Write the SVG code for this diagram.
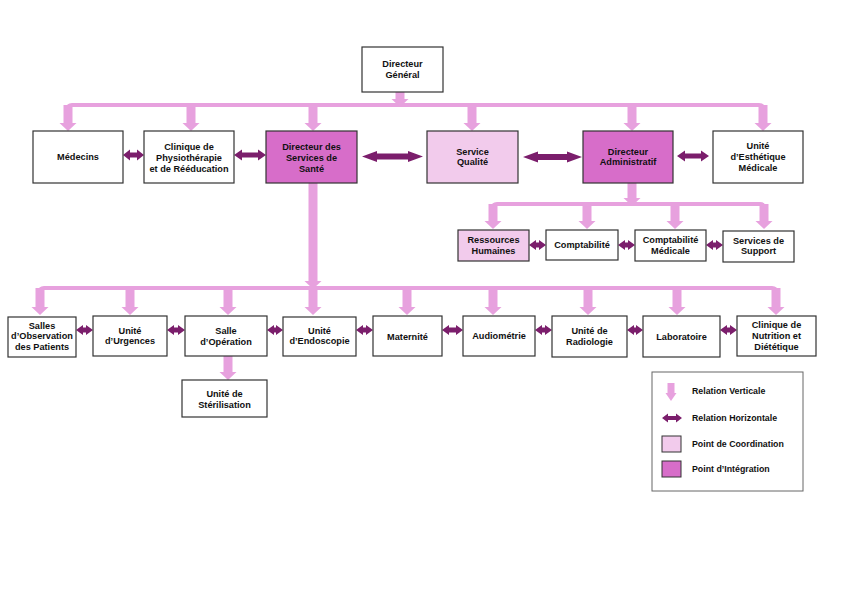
<svg xmlns="http://www.w3.org/2000/svg" width="842" height="595" viewBox="0 0 842 595">
<style>
.box{fill:#fff;stroke:#333;stroke-width:1.2}
.coord{fill:#f2cbec}
.integ{fill:#d76dc9}
.t{font-family:"Liberation Sans",Arial,sans-serif;font-weight:700;font-size:9.2px;fill:#111;text-anchor:middle}
.lt{font-family:"Liberation Sans",Arial,sans-serif;font-weight:700;font-size:8.8px;fill:#111}
.v{fill:#e7a1de}
.bar{fill:none;stroke:#e7a1de;stroke-width:4}
.h{fill:#7b1e6c}
</style>
<rect width="842" height="595" fill="#fff"/>
<g id="connectors">
<path class="bar" d="M68,114 V109 Q68,105 72,105 H759 Q763,105 763,109 V114"/>
<path class="bar" d="M493,212 V208 Q493,204 497,204 H760 Q764,204 764,208 V212"/>
<path class="bar" d="M40,296 V292 Q40,288 44,288 H772 Q776,288 776,292 V296"/>
<path class="v" d="M395.5,92 h9 V99 h4 L400,107 L391.5,99 h4 Z"/>
<path class="v" d="M63.5,105 h9 V123 h4 L68,131 L59.5,123 h4 Z"/>
<path class="v" d="M186.5,105 h9 V123 h4 L191,131 L182.5,123 h4 Z"/>
<path class="v" d="M308.5,105 h9 V123 h4 L313,131 L304.5,123 h4 Z"/>
<path class="v" d="M467.5,105 h9 V123 h4 L472,131 L463.5,123 h4 Z"/>
<path class="v" d="M627.5,105 h9 V123 h4 L632,131 L623.5,123 h4 Z"/>
<path class="v" d="M758.5,105 h9 V123 h4 L763,131 L754.5,123 h4 Z"/>
<path class="v" d="M627.5,183 h9 V198 h4 L632,206 L623.5,198 h4 Z"/>
<path class="v" d="M488.5,204 h9 V221 h4 L493,229 L484.5,221 h4 Z"/>
<path class="v" d="M582.5,204 h9 V221 h4 L587,229 L578.5,221 h4 Z"/>
<path class="v" d="M670.5,204 h9 V221 h4 L675,229 L666.5,221 h4 Z"/>
<path class="v" d="M759.5,204 h9 V221 h4 L764,229 L755.5,221 h4 Z"/>
<path class="v" d="M308.5,183 h9 V281 h4 L313,289 L304.5,281 h4 Z"/>
<path class="v" d="M35.5,288 h9 V307 h4 L40,315 L31.5,307 h4 Z"/>
<path class="v" d="M125.5,288 h9 V307 h4 L130,315 L121.5,307 h4 Z"/>
<path class="v" d="M223.5,288 h9 V307 h4 L228,315 L219.5,307 h4 Z"/>
<path class="v" d="M308.5,288 h9 V307 h4 L313,315 L304.5,307 h4 Z"/>
<path class="v" d="M402.5,288 h9 V307 h4 L407,315 L398.5,307 h4 Z"/>
<path class="v" d="M488.5,288 h9 V307 h4 L493,315 L484.5,307 h4 Z"/>
<path class="v" d="M583.5,288 h9 V307 h4 L588,315 L579.5,307 h4 Z"/>
<path class="v" d="M672.5,288 h9 V307 h4 L677,315 L668.5,307 h4 Z"/>
<path class="v" d="M771.5,288 h9 V307 h4 L776,315 L767.5,307 h4 Z"/>
<path class="v" d="M223.5,356 h9 V372 h4 L228,380 L219.5,372 h4 Z"/>
<path class="h" d="M123,155 L130,149.5 V152.5 H137 V149.5 L144,155 L137,160.5 V157.5 H130 V160.5 Z"/>
<path class="h" d="M234,155 L242,149.5 V152.5 H258 V149.5 L266,155 L258,160.5 V157.5 H242 V160.5 Z"/>
<path class="h" d="M362,156.5 L377,151 V153.5 H408 V151 L423,156.5 L408,162 V159.5 H377 V162 Z"/>
<path class="h" d="M523,157 L538,151.5 V154 H567 V151.5 L582,157 L567,162.5 V160 H538 V162.5 Z"/>
<path class="h" d="M677,156 L685,150.5 V153.5 H701 V150.5 L709,156 L701,161.5 V158.5 H685 V161.5 Z"/>
<path class="h" d="M529,245 L536,240 V242.5 H539 V240 L546,245 L539,250 V247.5 H536 V250 Z"/>
<path class="h" d="M618,245 L625,240 V242.5 H628 V240 L635,245 L628,250 V247.5 H625 V250 Z"/>
<path class="h" d="M706,245 L713,240 V242.5 H716 V240 L723,245 L716,250 V247.5 H713 V250 Z"/>
<path class="h" d="M76,330 L83,325 V327.5 H86 V325 L93,330 L86,335 V332.5 H83 V335 Z"/>
<path class="h" d="M167,330 L174,325 V327.5 H178 V325 L185,330 L178,335 V332.5 H174 V335 Z"/>
<path class="h" d="M267,330 L274,325 V327.5 H276 V325 L283,330 L276,335 V332.5 H274 V335 Z"/>
<path class="h" d="M356,330 L363,325 V327.5 H366 V325 L373,330 L366,335 V332.5 H363 V335 Z"/>
<path class="h" d="M442,330 L449,325 V327.5 H456 V325 L463,330 L456,335 V332.5 H449 V335 Z"/>
<path class="h" d="M535,330 L542,325 V327.5 H545 V325 L552,330 L545,335 V332.5 H542 V335 Z"/>
<path class="h" d="M627,330 L634,325 V327.5 H636 V325 L643,330 L636,335 V332.5 H634 V335 Z"/>
<path class="h" d="M720,330 L727,325 V327.5 H730 V325 L737,330 L730,335 V332.5 H727 V335 Z"/>
</g>
<g id="dg"><rect class="box" x="362" y="47" width="81" height="45"/><text class="t" x="402.5" y="67"><tspan x="402.5">Directeur</tspan><tspan x="402.5" dy="10.8">Général</tspan></text></g>
<g id="medecins"><rect class="box" x="33" y="131" width="90" height="52"/><text class="t" x="78" y="160">Médecins</text></g>
<g id="clinique-physio"><rect class="box" x="144" y="131" width="90" height="52"/><text class="t" x="189" y="150"><tspan x="189">Clinique de</tspan><tspan x="189" dy="10.8">Physiothérapie</tspan><tspan x="189" dy="10.8">et de Rééducation</tspan></text></g>
<g id="dss"><rect class="box integ" x="266" y="131" width="91" height="52"/><text class="t" x="311.5" y="150"><tspan x="311.5">Directeur des</tspan><tspan x="311.5" dy="10.8">Services de</tspan><tspan x="311.5" dy="10.8">Santé</tspan></text></g>
<g id="qualite"><rect class="box coord" x="427" y="131" width="91" height="52"/><text class="t" x="472.5" y="154.5"><tspan x="472.5">Service</tspan><tspan x="472.5" dy="10.8">Qualité</tspan></text></g>
<g id="da"><rect class="box integ" x="583" y="131" width="90" height="52"/><text class="t" x="628" y="154.5"><tspan x="628">Directeur</tspan><tspan x="628" dy="10.8">Administratif</tspan></text></g>
<g id="esthetique"><rect class="box" x="713" y="131" width="90" height="52"/><text class="t" x="758" y="149"><tspan x="758">Unité</tspan><tspan x="758" dy="10.8">d’Esthétique</tspan><tspan x="758" dy="10.8">Médicale</tspan></text></g>
<g id="rh"><rect class="box coord" x="458" y="230" width="71" height="31"/><text class="t" x="493.5" y="243"><tspan x="493.5">Ressources</tspan><tspan x="493.5" dy="10.8">Humaines</tspan></text></g>
<g id="compta"><rect class="box" x="546" y="230" width="72" height="30"/><text class="t" x="582" y="248">Comptabilité</text></g>
<g id="compta-med"><rect class="box" x="635" y="230" width="71" height="31"/><text class="t" x="670.5" y="243"><tspan x="670.5">Comptabilité</tspan><tspan x="670.5" dy="10.8">Médicale</tspan></text></g>
<g id="support"><rect class="box" x="723" y="231" width="71" height="31"/><text class="t" x="758.5" y="243.5"><tspan x="758.5">Services de</tspan><tspan x="758.5" dy="10.8">Support</tspan></text></g>
<g id="observation"><rect class="box" x="8" y="317" width="68" height="40"/><text class="t" x="42" y="328.5"><tspan x="42">Salles</tspan><tspan x="42" dy="10.8">d’Observation</tspan><tspan x="42" dy="10.8">des Patients</tspan></text></g>
<g id="urgences"><rect class="box" x="93" y="316" width="74" height="40"/><text class="t" x="130" y="333.5"><tspan x="130">Unité</tspan><tspan x="130" dy="10.8">d’Urgences</tspan></text></g>
<g id="operation"><rect class="box" x="185" y="316" width="82" height="40"/><text class="t" x="226" y="334"><tspan x="226">Salle</tspan><tspan x="226" dy="10.8">d’Opération</tspan></text></g>
<g id="endoscopie"><rect class="box" x="283" y="317" width="73" height="39"/><text class="t" x="319.5" y="333.5"><tspan x="319.5">Unité</tspan><tspan x="319.5" dy="10.8">d’Endoscopie</tspan></text></g>
<g id="maternite"><rect class="box" x="373" y="316" width="69" height="40"/><text class="t" x="407.5" y="340">Maternité</text></g>
<g id="audiometrie"><rect class="box" x="463" y="316" width="72" height="40"/><text class="t" x="499" y="339">Audiométrie</text></g>
<g id="radiologie"><rect class="box" x="552" y="316" width="75" height="41"/><text class="t" x="589.5" y="334"><tspan x="589.5">Unité de</tspan><tspan x="589.5" dy="10.8">Radiologie</tspan></text></g>
<g id="laboratoire"><rect class="box" x="643" y="316" width="77" height="41"/><text class="t" x="681.5" y="339.5">Laboratoire</text></g>
<g id="nutrition"><rect class="box" x="737" y="316" width="79" height="40"/><text class="t" x="776.5" y="328"><tspan x="776.5">Clinique de</tspan><tspan x="776.5" dy="10.8">Nutrition et</tspan><tspan x="776.5" dy="10.8">Diététique</tspan></text></g>
<g id="sterilisation"><rect class="box" x="182" y="380" width="85" height="37"/><text class="t" x="224.5" y="397"><tspan x="224.5">Unité de</tspan><tspan x="224.5" dy="10.8">Stérilisation</tspan></text></g>
<g id="legend">
<rect x="652" y="372" width="151" height="119" fill="#fff" stroke="#666" stroke-width="1"/>
<path class="v" d="M667.5,383 h7 V393 h2 L671,401 L665.5,393 h2 Z"/>
<path class="h" d="M662,418 L668,413.5 V416 H676 V413.5 L682,418 L676,422.5 V420 H668 V422.5 Z"/>
<rect x="662" y="436" width="19" height="16" fill="#f2cbec" stroke="#333" stroke-width="1"/>
<rect x="662" y="461" width="19" height="16" fill="#d76dc9" stroke="#333" stroke-width="1"/>
<text class="lt" x="692" y="394">Relation Verticale</text>
<text class="lt" x="692" y="421">Relation Horizontale</text>
<text class="lt" x="692" y="447">Point de Coordination</text>
<text class="lt" x="692" y="472">Point d’Intégration</text>
</g>
</svg>
